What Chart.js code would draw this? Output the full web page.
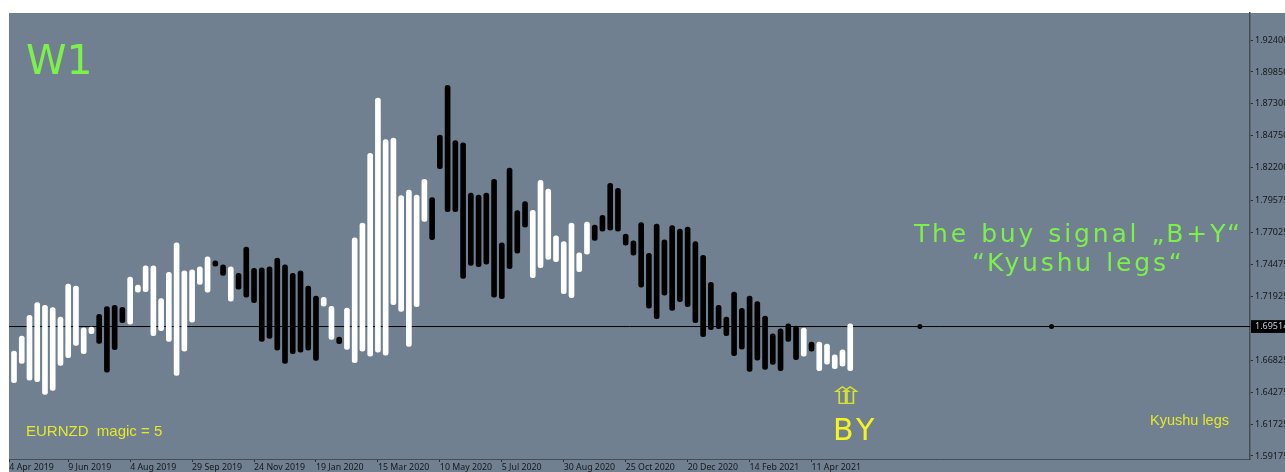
<!DOCTYPE html>
<html>
<head>
<meta charset="utf-8">
<title>EURNZD W1</title>
<script src="https://cdn.jsdelivr.net/npm/chart.js@4/dist/chart.umd.min.js"></script>
<style>
  html, body { margin: 0; padding: 0; background: #fff; overflow: hidden; }
  canvas { display: block; }
</style>
</head>
<body>
<canvas id="chart" width="1285" height="472"></canvas>
<script>
const highs = [
  1.6755, 1.6875, 1.7040, 1.7142, 1.7120, 1.7102, 1.7027, 1.7290, 1.7274, 1.6942,
  1.6947, 1.7048, 1.7110, 1.7120, 1.7104, 1.7346, 1.7282, 1.7437, 1.7437, 1.7174,
  1.7384, 1.7621, 1.7397, 1.7405, 1.7429, 1.7509, 1.7477, 1.7445, 1.7429, 1.7376,
  1.7586, 1.7416, 1.7421, 1.7429, 1.7498, 1.7445, 1.7376, 1.7397, 1.7274, 1.7194,
  1.7184, 1.7112, 1.6867, 1.7098, 1.7661, 1.7778, 1.8335, 1.8776, 1.8444, 1.8457,
  1.7997, 1.8041, 1.8001, 1.8127, 1.7981, 1.8481, 1.8878, 1.8436, 1.8420, 1.8017,
  1.8001, 1.8017, 1.8127, 1.7621, 1.8217, 1.7877, 1.7949, 1.7879, 1.8119, 1.8049,
  1.7677, 1.7631, 1.7778, 1.7540, 1.7786, 1.7762, 1.7839, 1.8095, 1.8055, 1.7690,
  1.7637, 1.7781, 1.7536, 1.7770, 1.7645, 1.7757, 1.7730, 1.7746, 1.7631, 1.7520,
  1.7304, 1.7120, 1.7027, 1.7226, 1.7096, 1.7194, 1.7150, 1.7035, 1.6894, 1.6934,
  1.6974, 1.6955, 1.6939, 1.6827, 1.6827, 1.6811, 1.6726, 1.6766, 1.6974
];
const lows = [
  1.6502, 1.6657, 1.6523, 1.6510, 1.6409, 1.6441, 1.6641, 1.6702, 1.6800, 1.6734,
  1.6894, 1.6816, 1.6587, 1.6766, 1.6982, 1.6971, 1.7226, 1.7230, 1.6878, 1.6918,
  1.6832, 1.6561, 1.6755, 1.6987, 1.7288, 1.7226, 1.7434, 1.7360, 1.7154, 1.7250,
  1.7186, 1.7142, 1.6832, 1.6856, 1.6763, 1.6657, 1.6734, 1.6747, 1.6763, 1.6681,
  1.7114, 1.6848, 1.6814, 1.6768, 1.6662, 1.6755, 1.6715, 1.6747, 1.6723, 1.7126,
  1.7072, 1.6792, 1.7110, 1.7791, 1.7645, 1.8212, 1.7869, 1.7869, 1.7336, 1.7440,
  1.7429, 1.7450, 1.7186, 1.7174, 1.7413, 1.7538, 1.7746, 1.7341, 1.7421, 1.7488,
  1.7469, 1.7214, 1.7182, 1.7389, 1.7530, 1.7639, 1.7714, 1.7722, 1.7714, 1.7602,
  1.7522, 1.7266, 1.7099, 1.7014, 1.7202, 1.7080, 1.7150, 1.7110, 1.6982, 1.6870,
  1.6926, 1.6934, 1.6878, 1.6718, 1.6771, 1.6593, 1.6683, 1.6609, 1.6649, 1.6598,
  1.6832, 1.6686, 1.6715, 1.6755, 1.6598, 1.6651, 1.6614, 1.6635, 1.6598
];
// 1 = white (up) leg, 0 = black (down) leg
const upLegs = [
  1, 1, 1, 1, 1, 1, 1, 1, 1, 1,
  1, 0, 0, 0, 0, 1, 1, 1, 1, 1,
  1, 1, 1, 1, 1, 1, 0, 0, 1, 0,
  0, 0, 0, 0, 0, 0, 0, 0, 0, 0,
  1, 1, 0, 1, 1, 1, 1, 1, 1, 1,
  1, 1, 1, 1, 0, 0, 0, 0, 0, 0,
  0, 0, 0, 0, 0, 0, 0, 1, 1, 1,
  1, 1, 1, 1, 1, 0, 0, 0, 0, 0,
  0, 0, 0, 0, 0, 0, 0, 0, 0, 0,
  0, 0, 0, 0, 0, 0, 0, 0, 0, 0,
  0, 0, 1, 0, 1, 1, 1, 1, 1
];
const lastPrice = 1.69514;
const futureDotBars = [117, 134];
const signalBars = [107, 108];
const signalPrice = 1.6385;

const priceTicks = [
  1.924, 1.8985, 1.873, 1.8475, 1.822, 1.79575, 1.77025,
  1.74475, 1.71925, lastPrice, 1.66825, 1.64275, 1.61725, 1.59175
];
const dateTickBars = [-0.6, 7, 15, 23, 31, 39, 47, 55, 63, 71, 79, 87, 95, 103];
const dateTickLabels = [
  "4 Apr 2019", "9 Jun 2019", "4 Aug 2019", "29 Sep 2019", "24 Nov 2019",
  "19 Jan 2020", "15 Mar 2020", "10 May 2020", "5 Jul 2020", "30 Aug 2020",
  "25 Oct 2020", "20 Dec 2020", "14 Feb 2021", "11 Apr 2021"
];

const green = "#7df04a";
const yellow = "#e4e82c";
const notes = [
  { text: "W1", x: 26, y: 74, font: "41px 'DejaVu Sans'", color: green },
  { text: "The buy signal „B+Y“", x: 914, y: 242, font: "25px 'DejaVu Sans'", color: green, spacing: 2.85, words: 1.3 },
  { text: "“Kyushu legs“", x: 972, y: 271, font: "25px 'DejaVu Sans'", color: green, spacing: 2.85, words: 1.3 },
  { text: "EURNZD  magic = 5", x: 26, y: 436, font: "15px 'Liberation Sans'", color: yellow },
  { text: "Kyushu legs", x: 1150, y: 425, font: "14.5px 'Liberation Sans'", color: yellow },
  { text: "BY", x: 833, y: 440, font: "30px 'DejaVu Sans'", color: "#f4f420", spacing: 4 }
];

const slateBackground = {
  id: "slateBackground",
  beforeDraw(chart) {
    const { ctx, width, height, chartArea } = chart;
    ctx.save();
    ctx.fillStyle = "#708090";
    ctx.fillRect(chartArea.left, chartArea.top, width - chartArea.left, height - chartArea.top);
    ctx.restore();
  }
};

const chartNotes = {
  id: "chartNotes",
  afterDraw(chart) {
    const { ctx, scales } = chart;
    ctx.save();
    ctx.textBaseline = "alphabetic";
    ctx.textAlign = "left";
    notes.forEach(n => {
      ctx.font = n.font;
      ctx.fillStyle = n.color;
      ctx.letterSpacing = (n.spacing || 0) + "px";
      ctx.wordSpacing = (n.words || 0) + "px";
      ctx.fillText(n.text, n.x, n.y);
    });
    ctx.letterSpacing = "0px";
    ctx.wordSpacing = "0px";
    // hollow double arrow under the last two bars, stretched sideways like the original glyph
    ctx.font = "24px 'DejaVu Sans'";
    ctx.fillStyle = "#d8e030";
    ctx.textAlign = "center";
    ctx.textBaseline = "middle";
    signalBars.forEach(bar => {
      ctx.save();
      ctx.translate(scales.x.getPixelForValue(bar), scales.y.getPixelForValue(signalPrice));
      ctx.scale(1.4, 1);
      ctx.fillText("⇧", 0, 0);
      ctx.restore();
    });
    ctx.restore();
  }
};

new Chart(document.getElementById("chart"), {
  type: "bar",
  data: {
    datasets: [
      {
        type: "scatter",
        data: futureDotBars.map(bar => ({ x: bar, y: lastPrice })),
        pointRadius: 2.5,
        pointBackgroundColor: "#000",
        pointBorderWidth: 0,
        order: 0
      },
      {
        data: highs.map((h, i) => ({ x: i, y: [lows[i], h] })),
        backgroundColor: upLegs.map(up => (up ? "#fff" : "#000")),
        barThickness: 5,
        borderRadius: 2.5,
        borderSkipped: false,
        order: 1
      },
      {
        type: "line",
        data: [{ x: -0.646, y: lastPrice }, { x: 159.63, y: lastPrice }],
        borderColor: "#000",
        borderWidth: 1,
        pointRadius: 0,
        order: 2
      }
    ]
  },
  options: {
    responsive: false,
    animation: false,
    devicePixelRatio: 1,
    layout: { padding: { left: 9, top: 13, right: 0, bottom: 0 } },
    plugins: { legend: { display: false }, tooltip: { enabled: false } },
    scales: {
      x: {
        type: "linear",
        offset: false,
        min: -0.646,
        max: 159.63,
        afterBuildTicks(scale) { scale.ticks = dateTickBars.map(v => ({ value: v })); },
        afterFit(scale) { scale.height = 13; },
        border: { color: "#454c55", width: 1 },
        grid: { offset: false, drawOnChartArea: false, tickColor: "#2c3036", tickLength: 3 },
        ticks: {
          autoSkip: false,
          maxRotation: 0,
          align: "start",
          padding: 0,
          color: "#15181c",
          font: { family: "'Noto Sans'", size: 8.8 },
          callback(value, index) { return dateTickLabels[index]; }
        }
      },
      y: {
        position: "right",
        min: 1.58932,
        max: 1.94562,
        afterBuildTicks(scale) { scale.ticks = priceTicks.map(v => ({ value: v })); },
        afterFit(scale) { scale.width = 35; },
        border: { color: "#454c55", width: 1.5 },
        grid: { drawOnChartArea: false, tickColor: "#2c3036", tickLength: 3 },
        ticks: {
          autoSkip: false,
          padding: 2,
          color: ctx => (ctx.tick.value === lastPrice ? "#c8ced6" : "#15181c"),
          showLabelBackdrop: ctx => ctx.tick.value === lastPrice,
          backdropColor: "#000",
          backdropPadding: { top: 1, bottom: 1, left: 4, right: 4 },
          font: { family: "'Noto Sans'", size: 9 },
          callback(value) { return value.toFixed(5); }
        }
      }
    }
  },
  plugins: [slateBackground, chartNotes]
});
</script>
</body>
</html>
